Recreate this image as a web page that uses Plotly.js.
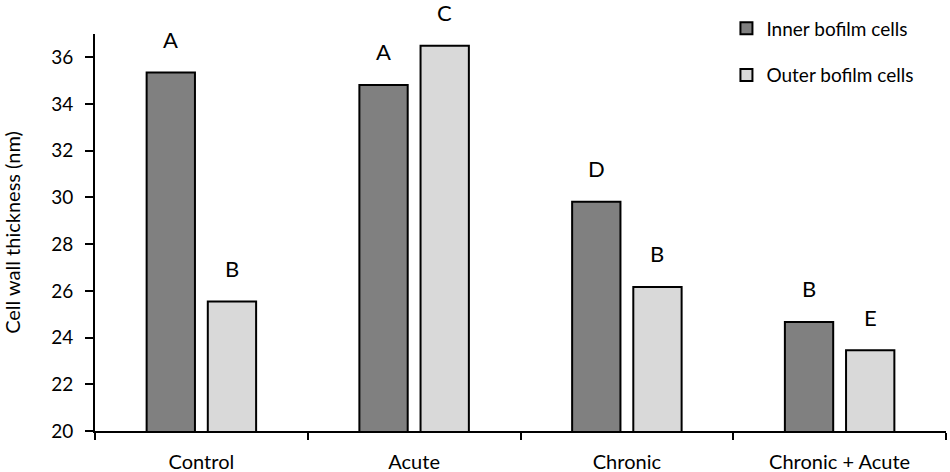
<!DOCTYPE html>
<html>
<head>
<meta charset="utf-8">
<script src="https://cdn.plot.ly/plotly-3.0.1.min.js"></script>
<style>
  html, body { margin: 0; padding: 0; background: #fff; }
  #chart { width: 950px; height: 472px; }
</style>
</head>
<body>
<div id="chart"></div>
<script>
"use strict";

const categories = ["Control", "Acute", "Chronic", "Chronic + Acute"];
const innerValues = [35.35, 34.82, 29.82, 24.67];
const outerValues = [25.55, 36.5, 26.17, 23.46];
const innerLetters = ["A", "A", "D", "B"];
const outerLetters = ["B", "C", "B", "E"];

const FONT = "Lato, 'Open Sans', sans-serif";
const BARGAP = 0.425;

const el = document.getElementById("chart");

const traces = [
    {
        type: "bar",
        name: "Inner bofilm cells",
        x: categories,
        y: innerValues,
        legendgroup: "inner",
        marker: { color: "#808080", line: { color: "#000", width: 2 } },
    },
    {
        type: "bar",
        name: "Outer bofilm cells",
        x: categories,
        y: outerValues,
        legendgroup: "outer",
        marker: { color: "#d9d9d9", line: { color: "#000", width: 2 } },
    },
];

// significance letters sit above each bar; the offset follows the group layout
const half = (1 - BARGAP) / 4;
const annotations = [];
categories.forEach(function (c, i) {
    annotations.push({
        xref: "x", yref: "y", x: i - half, y: innerValues[i],
        text: innerLetters[i], showarrow: false, yshift: 33,
        font: { size: 22, color: "#000", family: FONT },
    });
    annotations.push({
        xref: "x", yref: "y", x: i + half, y: outerValues[i],
        text: outerLetters[i], showarrow: false, yshift: 33,
        font: { size: 22, color: "#000", family: FONT },
    });
});

const layout = {
    width: 950,
    height: 472,
    margin: { l: 95, r: 4, t: 34, b: 41 },
    paper_bgcolor: "#fff",
    plot_bgcolor: "#fff",
    font: { family: FONT, color: "#000", size: 19 },
    barmode: "group",
    bargap: BARGAP,
    bargroupgap: 0.21,
    showlegend: true,
    legend: {
        x: 0.742, xanchor: "left",
        y: 1.062, yanchor: "top",
        traceorder: "grouped",
        tracegroupgap: 19,
        itemwidth: 30,
        font: { size: 19, family: FONT },
        bgcolor: "rgba(0,0,0,0)",
    },
    xaxis: {
        type: "category",
        showline: true, linecolor: "#000", linewidth: 2,
        ticks: "outside", tickson: "boundaries", ticklen: 7, tickwidth: 2, tickcolor: "#000",
        ticklabelstandoff: 12,
        tickfont: { size: 20 },
        showgrid: false, zeroline: false,
        automargin: false,
    },
    yaxis: {
        range: [20, 37],
        tickvals: [20, 22, 24, 26, 28, 30, 32, 34, 36],
        showline: true, linecolor: "#000", linewidth: 2,
        ticks: "outside", ticklen: 8, tickwidth: 2, tickcolor: "#000",
        ticklabelstandoff: 8,
        tickfont: { size: 19 },
        showgrid: false, zeroline: false,
        title: { text: "Cell wall thickness (nm)", font: { size: 20 }, standoff: 27 },
        automargin: false,
    },
    annotations: annotations,
};

Plotly.newPlot(el, traces, layout, { staticPlot: true, displayModeBar: false });
</script>
</body>
</html>
